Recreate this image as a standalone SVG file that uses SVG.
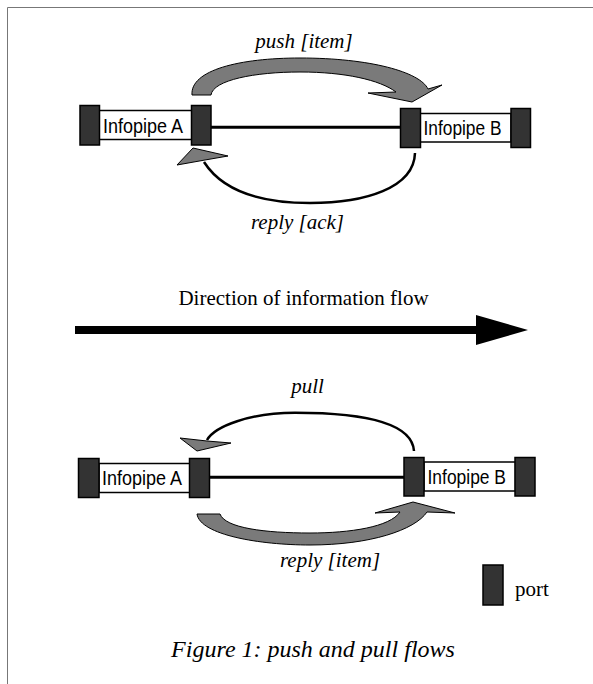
<svg xmlns="http://www.w3.org/2000/svg" width="593" height="684" viewBox="0 0 593 684">
<style>
.port{fill:#333;stroke:#000;stroke-width:1.5}
.body{fill:#fff;stroke:#000;stroke-width:1.5}
.nl{font-family:"Liberation Sans",Arial,sans-serif;font-size:19.5px;fill:#000}
.lbl{font-family:"Liberation Serif","Times New Roman",serif;font-size:21px;font-style:italic;fill:#000}
.reg{font-family:"Liberation Serif","Times New Roman",serif;font-size:21px;fill:#000}
.cap{font-family:"Liberation Serif","Times New Roman",serif;font-size:24px;font-style:italic;fill:#000}
.fat{fill:#7a7a7a;stroke:#000;stroke-width:1;stroke-linejoin:miter}
.thin{fill:none;stroke:#000;stroke-width:2.5}
.link{stroke:#000;stroke-width:3}
</style>
<rect x="0" y="0" width="593" height="684" fill="#fff"/>
<path d="M7.5,684 L7.5,7.5 L593,7.5" fill="none" stroke="#777" stroke-width="1"/>

<g id="pipeA_top">
<rect class="body" x="99" y="110.5" width="93" height="29"/>
<rect class="port" x="80" y="105.5" width="19.5" height="39.5"/>
<rect class="port" x="191.5" y="105.5" width="19.5" height="39.5"/>
<text class="nl" x="103" y="133" textLength="80" lengthAdjust="spacingAndGlyphs">Infopipe A</text>
</g>
<g id="pipeB_top">
<rect class="body" x="420" y="113.5" width="91" height="28.5"/>
<rect class="port" x="400.5" y="108.5" width="20" height="39"/>
<rect class="port" x="511" y="108.5" width="19.5" height="39"/>
<text class="nl" x="423.5" y="134.5" textLength="78" lengthAdjust="spacingAndGlyphs">Infopipe B</text>
</g>
<g id="pipeA_bottom">
<rect class="body" x="99" y="463.5" width="91" height="29"/>
<rect class="port" x="78.5" y="458.5" width="20.5" height="39"/>
<rect class="port" x="189.5" y="458.5" width="20" height="39"/>
<text class="nl" x="102" y="485" textLength="80" lengthAdjust="spacingAndGlyphs">Infopipe A</text>
</g>
<g id="pipeB_bottom">
<rect class="body" x="424" y="462" width="91.5" height="29"/>
<rect class="port" x="404" y="457.5" width="20" height="38.5"/>
<rect class="port" x="515" y="457.5" width="20" height="38.5"/>
<text class="nl" x="427.5" y="484" textLength="78.5" lengthAdjust="spacingAndGlyphs">Infopipe B</text>
</g>
<g id="legend">
<rect class="port" x="483" y="565" width="20" height="40"/>
<text class="reg" x="515" y="596">port</text>
</g>

<g id="connectors">
<line class="link" x1="211" y1="127.3" x2="400.5" y2="127.3"/>
<line class="link" x1="209.5" y1="477.3" x2="404" y2="477.3"/>
<path id="push" class="fat" d="M192,95 C190,70 240,58 300,58 C370,58 420,72 428,89 L442,85 L412,102 L368,93 L396,92 C380,80 345,72 300,72 C255,72 213,80 211,95 Z"/>
<path id="replyAck" class="thin" d="M415,153 C414,188 365,203 310,203 C260,203 222,190 204,162"/>
<polygon class="fat" points="177,165 193,148 228,156 205,160"/>
<path id="pull" class="thin" d="M414,451 C412,422 360,412.7 295,412.7 C250,413 215,426 207,440"/>
<polygon class="fat" points="180,438 207,441 231,443 197,451"/>
<path id="replyItem" class="fat" d="M197,514 C200,535 260,545 310,545 C370,545 415,530 427,512 L455,513 L413,502 L375,513 L400,512 C390,527 350,533 310,533 C265,533 225,528 220,514 Z"/>
<polygon id="direction" points="75,326 476,326 476,315 528,330 476,345 476,334 75,334" fill="#000"/>
</g>

<g id="labels">
<text class="lbl" x="304" y="47.5" text-anchor="middle">push [item]</text>
<text class="lbl" x="297.5" y="229" text-anchor="middle">reply [ack]</text>
<text class="reg" x="303.5" y="305" text-anchor="middle">Direction of information flow</text>
<text class="lbl" x="307.5" y="393" text-anchor="middle">pull</text>
<text class="lbl" x="330" y="567" text-anchor="middle">reply [item]</text>
<text class="cap" x="313" y="657" text-anchor="middle">Figure 1: push and pull flows</text>
</g>
</svg>
